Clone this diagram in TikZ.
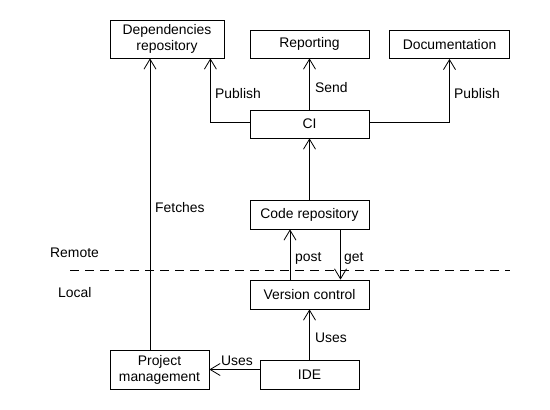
\documentclass[tikz,border=0pt]{standalone}
\usepackage{fontspec}
\setmainfont{Liberation Sans}
\usetikzlibrary{arrows.meta}
\begin{document}
\begin{tikzpicture}[x=1pt,y=-1pt,
  every node/.style={font=\fontsize{13.9}{16}\selectfont},
  box/.style={draw, line width=0.8pt, inner sep=0pt, align=center},
  lbl/.style={anchor=west, inner sep=0pt},
  arr/.style={line width=0.8pt, -{Straight Barb[length=10pt,width=12pt,line width=0.8pt]}}]
\fill[white] (0,0) rectangle (550,410);
\useasboundingbox (0,0) rectangle (550,410);
% boxes
\node[box, minimum width=114pt, minimum height=38pt] (dep) at (167,39) {Dependencies\\repository};
\node[box, minimum width=119pt, minimum height=28pt] (rep) at (309.5,44) {Reporting};
\node[box, minimum width=120pt, minimum height=28pt] (doc) at (449.5,44.5) {Documentation};
\node[box, minimum width=119pt, minimum height=28pt] (ci) at (309.5,124) {CI};
\node[box, minimum width=119pt, minimum height=29pt] (cr) at (309.5,214.5) {Code repository};
\node[box, minimum width=119pt, minimum height=29pt] (vc) at (309.5,294.5) {Version control};
\node[box, minimum width=99pt, minimum height=39pt] (pm) at (159.5,369.5) {Project\\management};
\node[box, minimum width=99pt, minimum height=29pt] (ide) at (309.5,374.5) {IDE};
% connectors
\draw[arr] ([yshift=2pt]ci.west) -| ([xshift=-14pt]dep.south east);
\draw[arr] ([yshift=2pt]ci.east) -| (doc.south);
\draw[arr] (ci.north) -- (rep.south);
\draw[arr] (cr.north) -- (ci.south);
\draw[arr] ([xshift=-19.5pt]vc.north) -- ([xshift=-19.5pt]cr.south);
\draw[arr] ([xshift=31pt]cr.south) -- ([xshift=31pt]vc.north);
\draw[arr] (ide.north) -- (vc.south);
\draw[arr] (ide.west |- pm.east) -- (pm.east);
\draw[arr] ([xshift=-9.5pt]pm.north) -- ([xshift=-9.5pt]pm.north |- dep.south);
% dashed boundary
\coordinate (dl) at (70,270);
\coordinate (dr) at (510,270);
\draw[line width=0.8pt, dash pattern=on 9pt off 6pt] (dl) -- (dr);
% labels
\node[lbl] (l1) at (215,94) {Publish};
\node[lbl] (l2) at (315,88) {Send};
\node[lbl] (l3) at (454,94) {Publish};
\node[lbl] (l4) at (155,208) {Fetches};
\node[lbl] (l5) at (50,253) {Remote};
\node[lbl] (l6) at (58,293) {Local};
\node[lbl] (l7) at (295,258) {post};
\node[lbl] (l8) at (344,258) {get};
\node[lbl] (l9) at (315,338) {Uses};
\node[lbl] (l10) at (221,361) {Uses};
\end{tikzpicture}
\end{document}
